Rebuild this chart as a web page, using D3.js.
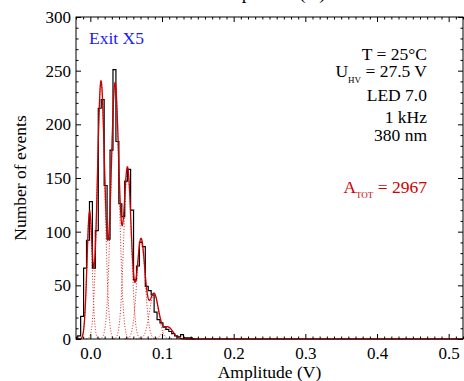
<!DOCTYPE html>
<html>
<head>
<meta charset="utf-8">
<script src="https://cdn.jsdelivr.net/npm/d3@7"></script>
<style>
  body { margin: 0; background: #fff; }
  text { font-family: "Liberation Serif", "Times New Roman", serif; }
</style>
</head>
<body>
<div id="chart"></div>
<script>
// amplitude histogram (counts per bin)
const binStart = -0.0176;
const binWidth = 0.0041;
const counts = [3, 21, 66, 92, 128, 66, 101, 215, 223, 143, 93, 176, 251, 184, 126, 114, 147, 158,
                120, 55, 68, 90, 86, 49, 45, 41, 25, 18, 15, 11, 9, 7, 5, 3, 2, 4, 1, 1, 1, 0];

// fitted photoelectron peaks
const peakPos = [-0.0011, 0.0149, 0.0345, 0.0519, 0.0707, 0.0889, 0.1084];
const peakAmp = [117, 240, 238, 158, 93, 42, 11];
const peakSigma = [0.0036, 0.0052, 0.0056, 0.0052, 0.0057, 0.0063, 0.0070];

const xTicks = [0, 0.1, 0.2, 0.3, 0.4, 0.5];
const yTicks = [0, 50, 100, 150, 200, 250, 300];

const width = 464, height = 381;
const mLeft = 76, mRight = 463, mTop = 17, mBottom = 339;
const serif = '"Liberation Serif", "Times New Roman", serif';

let svg = d3.select("#chart").append("svg")
    .attr("width", width)
    .attr("height", height)

let x = d3.scaleLinear().domain([-0.02, 0.52]).range([mLeft, mRight]);
let y = d3.scaleLinear().domain([0, 300]).range([mBottom, mTop]);

// title, cut off at the top edge like in the original
svg.append("text")
    .attr("x", (mLeft + mRight) / 2)
    .attr("y", -1)
    .attr("text-anchor", "middle")
    .style("font-size", "19px")
    .text("Amplitude (V)");

let gauss = (v, i) => peakAmp[i] * Math.exp(-0.5 * Math.pow((v - peakPos[i]) / peakSigma[i], 2));

let line = d3.line().x(d => x(d[0])).y(d => y(d[1]));

// single components, dotted
for (let i = 0; i < peakPos.length; i++) {
    let pts = d3.range(peakPos[i] - 4 * peakSigma[i], peakPos[i] + 4 * peakSigma[i], 0.0002)
        .map(v => [v, gauss(v, i)]);
    svg.append("path")
        .attr("d", line(pts))
        .attr("fill", "none")
        .attr("stroke", "#dd2020")
        .attr("stroke-width", 1)
        .attr("stroke-dasharray", "1,1.8");
}

// histogram steps
let steps = [[binStart, 0]];
counts.forEach((c, k) => steps.push([binStart + k * binWidth, c]));
steps.push([binStart + counts.length * binWidth, 0]);
let stepLine = d3.line().x(d => x(d[0])).y(d => y(d[1])).curve(d3.curveStepAfter);
svg.append("path")
    .attr("d", stepLine(steps))
    .attr("fill", "none")
    .attr("stroke", "#000")
    .attr("stroke-width", 1.2);

// total fit
let total = d3.range(-0.02, 0.5201, 0.0004).map(v => [v, d3.sum(peakPos, (p, i) => gauss(v, i))]);
svg.append("path")
    .attr("d", line(total))
    .attr("fill", "none")
    .attr("stroke", "#cc0000")
    .attr("stroke-width", 1.3);

// frame + ticks on all sides
svg.append("rect")
    .attr("x", mLeft).attr("y", mTop)
    .attr("width", mRight - mLeft).attr("height", mBottom - mTop)
    .attr("fill", "none").attr("stroke", "#000").attr("stroke-width", 1);

let xMinor = d3.range(-0.02, 0.5201, 0.01).filter(v => !xTicks.some(t => Math.abs(t - v) < 1e-6));
let yMinor = d3.range(0, 301, 10).filter(v => v % 50 != 0);

let fmtX = d3.format(".1f");

svg.append("g").attr("transform", `translate(0,${mBottom})`)
    .call(d3.axisBottom(x).tickValues(xTicks).tickSize(-5).tickPadding(8).tickFormat(fmtX));
svg.append("g").attr("transform", `translate(0,${mBottom})`)
    .call(d3.axisBottom(x).tickValues(xMinor).tickSize(-2.5).tickFormat(""));
svg.append("g").attr("transform", `translate(0,${mTop})`)
    .call(d3.axisTop(x).tickValues(xTicks).tickSize(-5).tickFormat(""));
svg.append("g").attr("transform", `translate(0,${mTop})`)
    .call(d3.axisTop(x).tickValues(xMinor).tickSize(-2.5).tickFormat(""));
svg.append("g").attr("transform", `translate(${mLeft},0)`)
    .call(d3.axisLeft(y).tickValues(yTicks).tickSize(-5).tickPadding(5));
svg.append("g").attr("transform", `translate(${mLeft},0)`)
    .call(d3.axisLeft(y).tickValues(yMinor).tickSize(-2.5).tickFormat(""));
svg.append("g").attr("transform", `translate(${mRight},0)`)
    .call(d3.axisRight(y).tickValues(yTicks).tickSize(-5).tickFormat(""));
svg.append("g").attr("transform", `translate(${mRight},0)`)
    .call(d3.axisRight(y).tickValues(yMinor).tickSize(-2.5).tickFormat(""));

svg.selectAll(".domain").remove();
svg.selectAll(".tick line").attr("stroke", "#000");
svg.selectAll(".tick text")
    .style("font-family", serif)
    .style("font-size", "17px")
    .attr("fill", "#000");

// axis titles
svg.append("text")
    .attr("x", (mLeft + mRight) / 2)
    .attr("y", 378)
    .attr("text-anchor", "middle")
    .style("font-size", "17.5px")
    .text("Amplitude (V)");
svg.append("text")
    .attr("transform", `translate(26,${(mTop + mBottom) / 2}) rotate(-90)`)
    .attr("text-anchor", "middle")
    .style("font-size", "17.5px")
    .text("Number of events");

// labels inside the plot
svg.append("text")
    .attr("x", 89).attr("y", 44)
    .attr("fill", "#1a1aff")
    .style("font-size", "17.5px")
    .text("Exit X5");

let tx = 427;
svg.append("text").attr("x", tx).attr("y", 60).attr("text-anchor", "end")
    .style("font-size", "17.5px").text("T = 25°C");
let u = svg.append("text").attr("x", tx).attr("y", 77).attr("text-anchor", "end")
    .style("font-size", "17.5px");
u.append("tspan").text("U");
u.append("tspan").attr("dy", 6).style("font-size", "9px").text("HV");
u.append("tspan").attr("dy", -6).text(" = 27.5 V");
svg.append("text").attr("x", tx).attr("y", 101).attr("text-anchor", "end")
    .style("font-size", "17.5px").text("LED 7.0");
svg.append("text").attr("x", tx).attr("y", 123).attr("text-anchor", "end")
    .style("font-size", "17.5px").text("1 kHz");
svg.append("text").attr("x", tx).attr("y", 141).attr("text-anchor", "end")
    .style("font-size", "17.5px").text("380 nm");
let a = svg.append("text").attr("x", tx).attr("y", 193).attr("text-anchor", "end")
    .attr("fill", "#cc0000")
    .style("font-size", "17.5px");
a.append("tspan").text("A");
a.append("tspan").attr("dy", 5).style("font-size", "9px").text("TOT");
a.append("tspan").attr("dy", -5).text(" = 2967");
</script>
</body>
</html>
